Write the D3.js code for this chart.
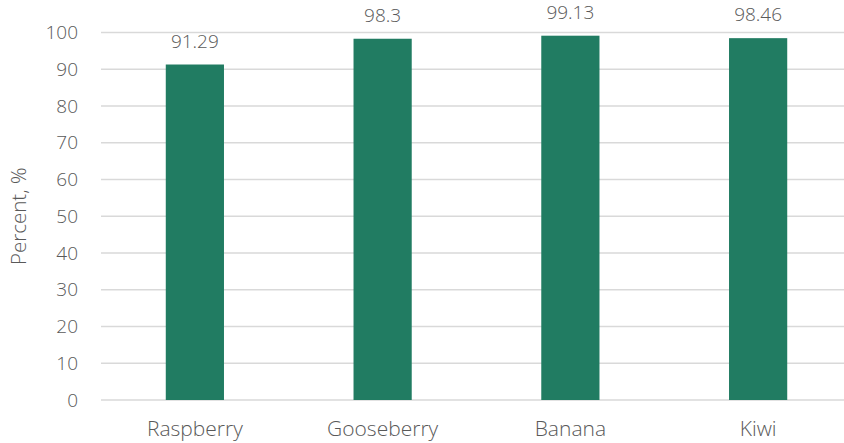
<!DOCTYPE html>
<html>
<head>
<meta charset="utf-8">
<script src="https://cdn.jsdelivr.net/npm/d3@7"></script>
<style>
  html, body { margin: 0; padding: 0; background: #fff; }
  svg { display: block; font-family: "Open Sans", "Segoe UI", sans-serif; font-weight: 300; }
</style>
</head>
<body>
<svg id="chart" width="844" height="443"></svg>
<script>
const categories = ["Raspberry", "Gooseberry", "Banana", "Kiwi"];
const values = [91.29, 98.3, 99.13, 98.46];
const valueLabels = ["91.29", "98.3", "99.13", "98.46"];
const yTicks = [0, 10, 20, 30, 40, 50, 60, 70, 80, 90, 100];
const yTitle = "Percent, %";

const svg = d3.select("#chart");
const textColor = "#595959";
const gridColor = "#d9d9d9";
const barColor = "#217C62";

const plotLeft = 101, plotRight = 852, plotTop = 32.5, plotBottom = 400;

const x = d3.scaleBand().domain(categories).range([plotLeft, plotRight])
  .paddingInner(0.69).paddingOuter(0.345);
const y = d3.scaleLinear().domain([0, 100]).range([plotBottom, plotTop]);

// gridlines
svg.append("g").selectAll("line").data(yTicks).join("line")
  .attr("x1", plotLeft).attr("x2", plotRight)
  .attr("y1", d => y(d)).attr("y2", d => y(d))
  .attr("stroke", gridColor).attr("stroke-width", 1.5);

// y axis labels
const yAxis = svg.append("g").attr("transform", `translate(${plotLeft},0)`)
  .call(d3.axisLeft(y).tickValues(yTicks).tickSize(0).tickPadding(23));
yAxis.select(".domain").remove();
yAxis.selectAll("text").attr("fill", textColor).attr("font-size", "19px")
  .attr("font-family", "'Open Sans', sans-serif").attr("font-weight", 300);

// bars
svg.append("g").selectAll("rect").data(values).join("rect")
  .attr("x", (d, i) => x(categories[i]))
  .attr("width", x.bandwidth())
  .attr("y", d => y(d))
  .attr("height", d => y(0) - y(d))
  .attr("fill", barColor);

// value labels
svg.append("g").selectAll("text").data(values).join("text")
  .attr("x", (d, i) => x(categories[i]) + x.bandwidth() / 2)
  .attr("y", d => y(d) - 17)
  .attr("text-anchor", "middle")
  .attr("fill", textColor).attr("font-size", "19px")
  .text((d, i) => valueLabels[i]);

// x axis labels
const xAxis = svg.append("g").attr("transform", `translate(0,${plotBottom})`)
  .call(d3.axisBottom(x).tickSize(0).tickPadding(21));
xAxis.select(".domain").remove();
xAxis.selectAll("text").attr("fill", textColor).attr("font-size", "21px")
  .attr("font-family", "'Open Sans', sans-serif").attr("font-weight", 300);

// y title
svg.append("text")
  .attr("transform", `translate(26,${(plotTop + plotBottom) / 2}) rotate(-90)`)
  .attr("text-anchor", "middle")
  .attr("fill", textColor).attr("font-size", "20.5px")
  .text(yTitle);
</script>
</body>
</html>
